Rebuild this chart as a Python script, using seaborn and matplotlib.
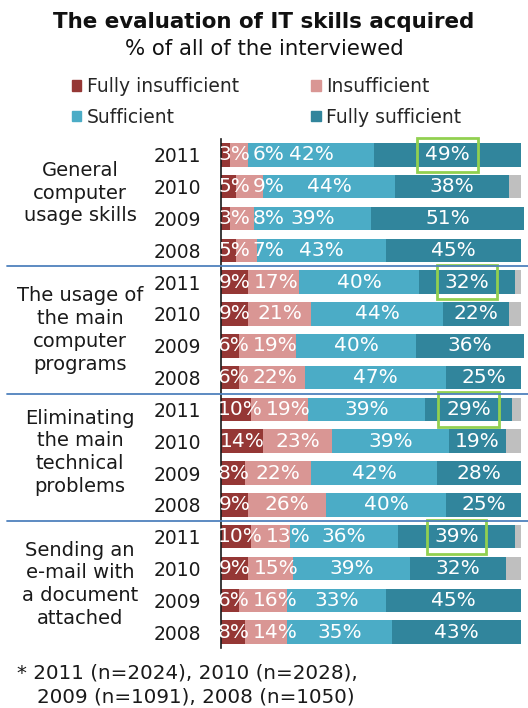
import numpy as np
import pandas as pd
import matplotlib
matplotlib.use("Agg")
import matplotlib.pyplot as plt
import matplotlib.transforms as mtransforms
from matplotlib.lines import Line2D
from matplotlib.patches import Patch
import seaborn as sns

# ---- data -------------------------------------------------------------
categories = [
    "General\ncomputer\nusage skills",
    "The usage of\nthe main\ncomputer\nprograms",
    "Eliminating\nthe main\ntechnical\nproblems",
    "Sending an\ne-mail with\na document\nattached",
]
years = ["2011", "2010", "2009", "2008"]
levels = ["Fully insufficient", "Insufficient", "Sufficient", "Fully sufficient"]

fully_insufficient = [3, 5, 3, 5,   9, 9, 6, 6,   10, 14, 8, 9,   10, 9, 6, 8]
insufficient       = [6, 9, 8, 7,   17, 21, 19, 22,   19, 23, 22, 26,   13, 15, 16, 14]
sufficient         = [42, 44, 39, 43,   40, 44, 40, 47,   39, 39, 42, 40,   36, 39, 33, 35]
fully_sufficient   = [49, 38, 51, 45,   32, 22, 36, 25,   29, 19, 28, 25,   39, 32, 45, 43]

footnote_1 = "* 2011 (n=2024), 2010 (n=2028),"
footnote_2 = "2009 (n=1091), 2008 (n=1050)"

colors = ["#953735", "#D99694", "#4BACC6", "#31859C"]
rest_color = "#BFBFBF"
box_color = "#92D050"
sep_color = "#4F81BD"
text_color = "#1a1a1a"

# ---- table ------------------------------------------------------------
row_ids = [f"{c}-{y}" for c in range(len(categories)) for y in years]
df = pd.DataFrame({
    "row": row_ids,
    "year": [y for _ in categories for y in years],
    levels[0]: fully_insufficient,
    levels[1]: insufficient,
    levels[2]: sufficient,
    levels[3]: fully_sufficient,
})
df["rest"] = np.clip(100 - df[levels].sum(axis=1), 0, None)

# ---- figure -----------------------------------------------------------
sns.set_theme(style="white")
plt.rcParams["font.family"] = ["DejaVu Sans"]

fig = plt.figure(figsize=(5.28, 7.08), dpi=100)
ax = fig.add_axes([221 / 528, 1 - 648 / 708, 303 / 528, 509 / 708])

starts = {}
left = np.zeros(len(df))
for lev, col in zip(levels + ["rest"], colors + [rest_color]):
    sns.barplot(data=df, x=lev, y="row", order=row_ids, orient="h",
                color=col, width=0.74, left=left, ax=ax,
                saturation=1, linewidth=0, errorbar=None)
    starts[lev] = left.copy()
    left = left + df[lev].to_numpy()

ax.set_xlim(0, 101)
ax.set_ylim(len(row_ids) - 0.5, -0.5)

# value labels: centred on their segment, nudged right so neighbours never collide
renderer = fig.canvas.get_renderer()
px_per_unit = ax.get_window_extent(renderer).width / 101
gap = 1.0
for i in range(len(df)):
    prev_right = -2.0
    for lev in levels:
        v = df[lev].iloc[i]
        kw = {}
        if lev == levels[3] and df["year"].iloc[i] == "2011":
            kw["bbox"] = dict(boxstyle="square,pad=0.38", fc="none",
                              ec=box_color, lw=2)
        t = ax.text(0, i, f"{v}%", ha="center", va="center",
                    color="white", fontsize=14.5, **kw)
        w = t.get_window_extent(renderer).width / px_per_unit
        cx = max(starts[lev][i] + v / 2, prev_right + gap + w / 2)
        t.set_x(cx)
        prev_right = cx + w / 2

ax.set_xlabel("")
ax.set_ylabel("")
ax.set_xticks([])
ax.set_yticks(range(len(row_ids)))
ax.set_yticklabels(df["year"], fontsize=13.5, color=text_color)
ax.tick_params(axis="y", length=0, pad=14)
for s in ["top", "right", "bottom"]:
    ax.spines[s].set_visible(False)
ax.spines["left"].set_color(text_color)
ax.spines["left"].set_linewidth(1.2)

# group separators across the full width
trans = mtransforms.blended_transform_factory(fig.transFigure, ax.transData)
for g in range(1, len(categories)):
    yline = g * len(years) - 0.5
    fig.add_artist(Line2D([7 / 528, 1.0], [yline, yline], transform=trans,
                          color=sep_color, lw=1.3))

# group labels
label_offsets = [1.2, 1.5, 1.35, 1.5]
for g, (cat, off) in enumerate(zip(categories, label_offsets)):
    ax.text(80 / 528, g * len(years) + off, cat, transform=trans,
            ha="center", va="center", fontsize=14, color=text_color,
            linespacing=1.25)

# titles
fig.text(0.5, 1 - 22 / 708, "The evaluation of IT skills acquired",
         ha="center", va="center", fontsize=15.4, fontweight="bold",
         color="#111111")
fig.text(0.5, 1 - 49 / 708, "% of all of the interviewed",
         ha="center", va="center", fontsize=15.3, color="#111111")

# legend (row-wise order for two columns)
handles = [Patch(color=c) for c in colors]
order = [0, 2, 1, 3]
fig.legend([handles[i] for i in order], [levels[i] for i in order],
           ncol=2, loc="upper left", bbox_to_anchor=(72 / 528, 1 - 77 / 708),
           frameon=False, fontsize=13.5, handlelength=0.5, handleheight=0.5,
           handletextpad=0.3, columnspacing=3.85, labelspacing=0.62,
           borderaxespad=0, borderpad=0)

# footnote
fig.text(17 / 528, 1 - 673 / 708, footnote_1, ha="left", va="center",
         fontsize=14.3, color=text_color)
fig.text(37 / 528, 1 - 697 / 708, footnote_2, ha="left", va="center",
         fontsize=14.3, color=text_color)

fig.savefig("out.png", dpi=100)
